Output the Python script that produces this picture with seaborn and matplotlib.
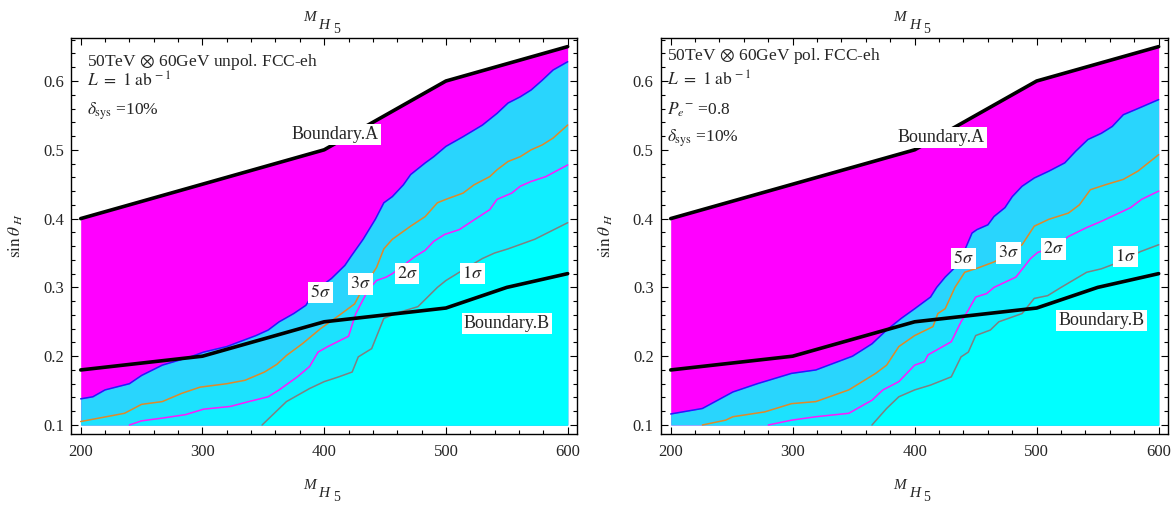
import numpy as np
import pandas as pd
import seaborn as sns
import matplotlib
matplotlib.use("Agg")
import matplotlib.pyplot as plt
from matplotlib.ticker import MultipleLocator, FormatStrFormatter

# ---------------- data ----------------
# theoretical boundaries (shared by both panels)
bound_a_x = [200, 300, 400, 500, 600]
bound_a_y = [0.40, 0.45, 0.50, 0.60, 0.65]
bound_b_x = [200, 300, 400, 500, 550, 600]
bound_b_y = [0.18, 0.20, 0.25, 0.27, 0.30, 0.32]

# unpolarised beam: significance contours
unpol_5s_x = [200, 210, 220, 240, 250, 267, 290, 301, 320, 344, 354, 363, 375, 385, 391,
              400, 406, 417, 422, 432, 442, 449, 456, 465, 471, 483, 490, 500, 514, 530,
              542, 551, 561, 570, 579, 588, 600]
unpol_5s_y = [0.138, 0.141, 0.151, 0.160, 0.172, 0.187, 0.199, 0.206, 0.214, 0.230, 0.238,
              0.250, 0.262, 0.274, 0.291, 0.305, 0.313, 0.332, 0.345, 0.370, 0.399, 0.423,
              0.432, 0.449, 0.464, 0.481, 0.490, 0.505, 0.519, 0.536, 0.553, 0.568, 0.577,
              0.587, 0.601, 0.616, 0.628]
unpol_3s_x = [200, 236, 250, 267, 283, 298, 320, 335, 351, 361, 369, 382, 397, 412, 425,
              431, 443, 449, 456, 471, 483, 493, 500, 514, 523, 536, 542, 551, 561, 570,
              579, 588, 600]
unpol_3s_y = [0.105, 0.117, 0.130, 0.134, 0.146, 0.155, 0.160, 0.165, 0.177, 0.188, 0.201,
              0.218, 0.240, 0.259, 0.276, 0.296, 0.329, 0.356, 0.370, 0.389, 0.403, 0.423,
              0.428, 0.437, 0.449, 0.461, 0.471, 0.483, 0.490, 0.500, 0.507, 0.517, 0.536]
unpol_2s_x = [240, 250, 267, 286, 301, 323, 338, 354, 363, 378, 388, 395, 403, 420, 426,
              436, 443, 451, 456, 474, 483, 490, 499, 511, 523, 536, 542, 554, 561, 570,
              582, 600]
unpol_2s_y = [0.100, 0.106, 0.110, 0.115, 0.123, 0.127, 0.134, 0.141, 0.151, 0.170, 0.185,
              0.206, 0.214, 0.229, 0.262, 0.296, 0.310, 0.315, 0.320, 0.344, 0.354, 0.367,
              0.377, 0.384, 0.398, 0.413, 0.428, 0.437, 0.447, 0.454, 0.461, 0.478]
unpol_1s_x = [349, 369, 388, 400, 412, 423, 428, 439, 449, 462, 477, 493, 500, 511, 530,
              540, 551, 573, 600]
unpol_1s_y = [0.100, 0.134, 0.153, 0.163, 0.170, 0.177, 0.199, 0.211, 0.255, 0.264, 0.272,
              0.300, 0.310, 0.322, 0.342, 0.350, 0.356, 0.370, 0.394]

# polarised beam: significance contours
pol_5s_x = [200, 226, 251, 271, 299, 319, 349, 365, 377, 389, 400, 413, 418, 425, 433,
            440, 447, 451, 460, 465, 474, 480, 488, 498, 510, 523, 532, 542, 553, 562,
            571, 583, 600]
pol_5s_y = [0.116, 0.124, 0.148, 0.160, 0.175, 0.180, 0.200, 0.218, 0.238, 0.255, 0.269,
            0.286, 0.300, 0.315, 0.329, 0.350, 0.379, 0.384, 0.391, 0.403, 0.416, 0.432,
            0.447, 0.459, 0.469, 0.481, 0.498, 0.515, 0.524, 0.534, 0.551, 0.560, 0.573]
pol_3s_x = [226, 245, 251, 277, 299, 319, 346, 368, 377, 387, 400, 415, 419, 425, 433,
            441, 453, 465, 477, 488, 498, 510, 526, 535, 544, 556, 571, 583, 600]
pol_3s_y = [0.100, 0.107, 0.112, 0.119, 0.131, 0.134, 0.151, 0.175, 0.187, 0.214, 0.230,
            0.243, 0.262, 0.269, 0.300, 0.322, 0.329, 0.337, 0.348, 0.362, 0.389, 0.399,
            0.408, 0.420, 0.442, 0.449, 0.457, 0.469, 0.493]
pol_2s_x = [280, 299, 319, 346, 365, 374, 387, 400, 408, 411, 430, 438, 444, 450, 459,
            465, 483, 495, 501, 514, 526, 541, 553, 565, 577, 586, 600]
pol_2s_y = [0.100, 0.107, 0.112, 0.117, 0.136, 0.151, 0.163, 0.187, 0.192, 0.202, 0.221,
            0.250, 0.267, 0.286, 0.291, 0.300, 0.315, 0.342, 0.351, 0.358, 0.374, 0.387,
            0.396, 0.406, 0.416, 0.428, 0.440]
pol_1s_x = [365, 377, 387, 400, 413, 430, 438, 444, 450, 462, 469, 488, 498, 509, 520,
            541, 553, 568, 585, 600]
pol_1s_y = [0.100, 0.124, 0.141, 0.151, 0.158, 0.170, 0.199, 0.206, 0.230, 0.238, 0.250,
            0.262, 0.284, 0.288, 0.300, 0.322, 0.327, 0.337, 0.352, 0.362]

sigma_labels = [r"$5\sigma$", r"$3\sigma$", r"$2\sigma$", r"$1\sigma$"]
x_ticks = [200, 300, 400, 500, 600]
y_ticks = [0.1, 0.2, 0.3, 0.4, 0.5, 0.6]

# ---------------- style ----------------
sns.set_style("ticks")
plt.rcParams["font.family"] = ["Liberation Serif", "DejaVu Serif"]
plt.rcParams["mathtext.fontset"] = "stix"

fill_colors = ["#FF00FF", "#29D5FD", "#1CE2FE", "#10EEFF", "#00FFFF"]
line_colors = ["#1E1EFF", "#E08A28", "#FF18FF", "#808080"]

fig = plt.figure(figsize=(11.71, 5.05), dpi=100)
ax_l = fig.add_axes([0.06038, 0.1406, 0.4326, 0.7848])
ax_r = fig.add_axes([0.5642, 0.1406, 0.4335, 0.7848])


def mass_label(ax, y_axes, dy_h, dy_5):
    """Draw M_{H_5} built from pieces, centred at (0.5, y_axes)."""
    kw = dict(xycoords="axes fraction", textcoords="offset points",
              ha="center", va="center", style="italic", annotation_clip=False)
    ax.annotate("M", (0.5, y_axes), xytext=(-10.5, 0), fontsize=11, **kw)
    ax.annotate("H", (0.5, y_axes), xytext=(0, dy_h), fontsize=11, **kw)
    kw["style"] = "normal"
    ax.annotate("5", (0.5, y_axes), xytext=(9, dy_5), fontsize=10, **kw)


def draw_panel(ax, curves, info, info_y, info_x, label_pos, ba_pos, bb_pos):
    a_x = np.array(bound_a_x, float)
    a_y = np.array(bound_a_y, float)
    ax.fill_between(a_x, 0.1, a_y, color=fill_colors[0], linewidth=0, zorder=1)
    for i, (cx, cy) in enumerate(curves):
        ax.fill_between(cx, 0.1, cy, color=fill_colors[i + 1], linewidth=0, zorder=1 + i * 0.01)
    for i, (cx, cy) in enumerate(curves):
        df = pd.DataFrame({"m": cx, "s": cy})
        sns.lineplot(data=df, x="m", y="s", sort=False, estimator=None, ax=ax,
                     color=line_colors[i], linewidth=1.1, zorder=3)
    for bx, by in [(bound_a_x, bound_a_y), (bound_b_x, bound_b_y)]:
        df = pd.DataFrame({"m": bx, "s": by})
        sns.lineplot(data=df, x="m", y="s", sort=False, estimator=None, ax=ax,
                     color="black", linewidth=2.6, zorder=4)
    box = dict(facecolor="white", edgecolor="none", pad=1.6)
    for lab, (lx, ly) in zip(sigma_labels, label_pos):
        ax.text(lx, ly, lab, ha="center", va="center", fontsize=13, bbox=box, zorder=6)
    ax.text(*ba_pos, "Boundary.A", ha="center", va="center", fontsize=13, bbox=box, zorder=6)
    ax.text(*bb_pos, "Boundary.B", ha="center", va="center", fontsize=13, bbox=box, zorder=6)
    for s, yy in zip(info, info_y):
        ax.text(info_x, yy, s, transform=ax.transAxes, ha="left", va="center",
                fontsize=12.5, zorder=7)

    ax.set_xlim(191.8, 607.9)
    ax.set_ylim(0.0869, 0.663)
    ax.xaxis.set_major_locator(plt.FixedLocator(x_ticks))
    ax.yaxis.set_major_locator(plt.FixedLocator(y_ticks))
    ax.xaxis.set_minor_locator(MultipleLocator(20))
    ax.yaxis.set_minor_locator(MultipleLocator(0.02))
    ax.yaxis.set_major_formatter(FormatStrFormatter("%.1f"))
    ax.tick_params(which="both", direction="in", top=True, right=True, labelsize=12,
                   width=0.8, color="black")
    ax.tick_params(which="major", length=5)
    ax.tick_params(which="minor", length=3)
    ax.tick_params(axis="x", pad=7)
    ax.tick_params(axis="y", pad=5)
    for sp in ax.spines.values():
        sp.set_linewidth(1.0)
        sp.set_color("black")
    ax.set_xlabel("")
    ax.set_ylabel(r"$\sin\theta_{\ H}$", fontsize=12.5)
    ax.yaxis.set_label_coords(-0.09, 0.5)
    mass_label(ax, -0.13, -5.5, -8.5)
    mass_label(ax, 1.05, -5.5, -8.5)


unpol_curves = [(unpol_5s_x, unpol_5s_y), (unpol_3s_x, unpol_3s_y),
                (unpol_2s_x, unpol_2s_y), (unpol_1s_x, unpol_1s_y)]
pol_curves = [(pol_5s_x, pol_5s_y), (pol_3s_x, pol_3s_y),
              (pol_2s_x, pol_2s_y), (pol_1s_x, pol_1s_y)]

draw_panel(
    ax_l, unpol_curves,
    [r"50TeV $\otimes$ 60GeV unpol. FCC-eh", r"$L\ =\ 1\ \mathrm{ab}^{\,-1}$",
     r"$\delta_{\mathrm{sys}}$ =10%"],
    [0.9394, 0.889, 0.8133], 0.0316,
    [(397, 0.293), (430, 0.305), (468, 0.320), (522, 0.320)],
    (409, 0.522), (550, 0.248),
)
draw_panel(
    ax_r, pol_curves,
    [r"50TeV $\otimes$ 60GeV pol. FCC-eh", r"$L\ =\ 1\ \mathrm{ab}^{\,-1}$",
     r"$P_{e}{}^{-}$ =0.8", r"$\delta_{\mathrm{sys}}$ =10%"],
    [0.9538, 0.8915, 0.8176, 0.7462], 0.0118,
    [(440, 0.342), (477, 0.350), (514, 0.356), (573, 0.345)],
    (422, 0.518), (553, 0.252),
)

fig.savefig("out.png", dpi=100, facecolor="white")
